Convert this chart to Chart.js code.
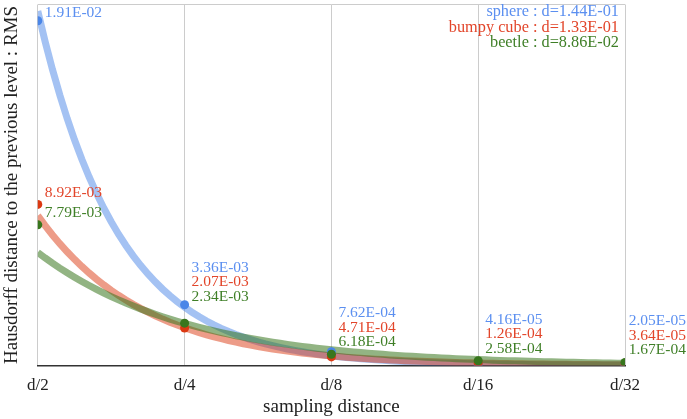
<!DOCTYPE html>
<html><head><meta charset="utf-8">
<script src="https://cdn.jsdelivr.net/npm/chart.js@4/dist/chart.umd.min.js"></script>
<style>html,body{margin:0;padding:0;background:#fff}#wrap{width:687px;height:419px;position:relative}</style>
</head><body><div id="wrap"><canvas id="c"></canvas></div>
<script>
const categories = ['d/2', 'd/4', 'd/8', 'd/16', 'd/32'];
const seriesNames = ['sphere', 'bumpy cube', 'beetle'];
const sphere = [1.91e-2, 3.36e-3, 7.62e-4, 4.16e-5, 2.05e-5];
const bumpyCube = [8.92e-3, 2.07e-3, 4.71e-4, 1.26e-4, 3.64e-5];
const beetle = [7.79e-3, 2.34e-3, 6.18e-4, 2.58e-4, 1.67e-4];
const legendD = ['1.44E-01', '1.33E-01', '8.86E-02'];
const yMax = 0.02;

const FONT = 'Liberation Serif';
const pointColors = ['#4a86e8', '#dc3912', '#38761d'];
const textColors = ['#5b8ff0', '#e2452a', '#3f7f27'];
const trendColors = ['rgba(74,134,232,0.5)', 'rgba(220,57,18,0.5)', 'rgba(56,118,29,0.55)'];
const allSeries = [sphere, bumpyCube, beetle];

// exponential least-squares trendline (fit of ln y against category index)
function expFit(vals) {
  const n = vals.length;
  const xs = vals.map((_, i) => i);
  const ls = vals.map(v => Math.log(v));
  const mx = xs.reduce((a, b) => a + b, 0) / n;
  const ml = ls.reduce((a, b) => a + b, 0) / n;
  let sxy = 0, sxx = 0;
  for (let i = 0; i < n; i++) { sxy += (xs[i] - mx) * (ls[i] - ml); sxx += (xs[i] - mx) ** 2; }
  const b = sxy / sxx, a = ml - b * mx;
  const pts = [];
  for (let k = 0; k <= (n - 1) * 20; k++) { const x = k / 20; pts.push({x, y: Math.exp(a + b * x)}); }
  return pts;
}

const datasets = [];
allSeries.forEach((s, i) => {
  datasets.push({type: 'line', label: seriesNames[i] + ' trend', data: expFit(s), borderColor: trendColors[i],
    borderWidth: 7, pointRadius: 0, fill: false, tension: 0, order: 10 - i});
});
allSeries.forEach((s, i) => {
  datasets.push({type: 'scatter', label: seriesNames[i], data: s.map((v, j) => ({x: j, y: v})),
    backgroundColor: pointColors[i], borderColor: pointColors[i], pointRadius: 4.5, borderWidth: 0, order: 3 - i});
});

function fmt(v) {
  const e = Math.floor(Math.log10(v));
  const m = v / Math.pow(10, e);
  const es = (e < 0 ? '-' : '+') + String(Math.abs(e)).padStart(2, '0');
  return m.toFixed(2) + 'E' + es;
}

const labelPlugin = {
  id: 'labels',
  afterDatasetsDraw(chart) {
    const ctx = chart.ctx, xs = chart.scales.x, ys = chart.scales.y;
    ctx.save();
    ctx.font = '15.5px "' + FONT + '"';
    ctx.textBaseline = 'middle';
    categories.forEach((c, j) => {
      const px = xs.getPixelForValue(j);
      const pys = allSeries.map(s => ys.getPixelForValue(s[j]));
      let below = Infinity;
      const ly = [];
      for (let i = allSeries.length - 1; i >= 0; i--) {
        let y = pys[i] - 12;
        for (let k = 0; k < pys.length; k++) {
          if (k !== i && Math.abs(pys[k] - y) < 7.5) y = Math.min(y, pys[k] - 8);
        }
        y = Math.min(y, below - 14.5);
        y = Math.max(y, 13);
        ly[i] = y; below = y;
      }
      allSeries.forEach((s, i) => {
        const t = fmt(s[j]);
        const w = ctx.measureText(t).width;
        let x = px + 7;
        if (x + w > chart.width - 1) x = chart.width - 1 - w;
        ctx.fillStyle = textColors[i];
        ctx.textAlign = 'left';
        ctx.fillText(t, x, ly[i]);
      });
    });
    // legend
    ctx.textAlign = 'right';
    ctx.font = '16.3px "' + FONT + '"';
    seriesNames.forEach((n, i) => {
      ctx.fillStyle = textColors[i];
      ctx.fillText(n + ' : d=' + legendD[i], chart.chartArea.right - 6, 12 + i * 15.5);
    });
    ctx.restore();
  }
};

new Chart(document.getElementById('c'), {
  data: {datasets},
  options: {
    responsive: true, maintainAspectRatio: false, animation: false,
    layout: {padding: {left: 0, right: 62, top: 3, bottom: 0.4}},
    plugins: {legend: {display: false}, tooltip: {enabled: false}},
    scales: {
      x: {type: 'linear', min: 0, max: categories.length - 1,
        ticks: {stepSize: 1, padding: 10, color: '#222', font: {family: FONT, size: 17},
          callback: v => categories[v] !== undefined ? categories[v] : ''},
        grid: {color: '#cccccc', drawTicks: false, lineWidth: 1},
        border: {color: '#333', width: 1.5},
        title: {display: true, text: 'sampling distance', color: '#222', font: {family: FONT, size: 19}, padding: {top: -10, bottom: 0}}
      },
      y: {type: 'linear', min: 0, max: yMax,
        ticks: {display: false, stepSize: yMax},
        grid: {drawTicks: false, color: ctx => ctx.tick && ctx.tick.value === yMax ? '#cccccc' : 'rgba(0,0,0,0)'},
        border: {display: false},
        title: {display: true, text: 'Hausdorff distance to the previous level : RMS', color: '#222', font: {family: FONT, size: 19}, padding: {top: 1, bottom: 14}}
      }
    }
  },
  plugins: [labelPlugin]
});
</script></body></html>
